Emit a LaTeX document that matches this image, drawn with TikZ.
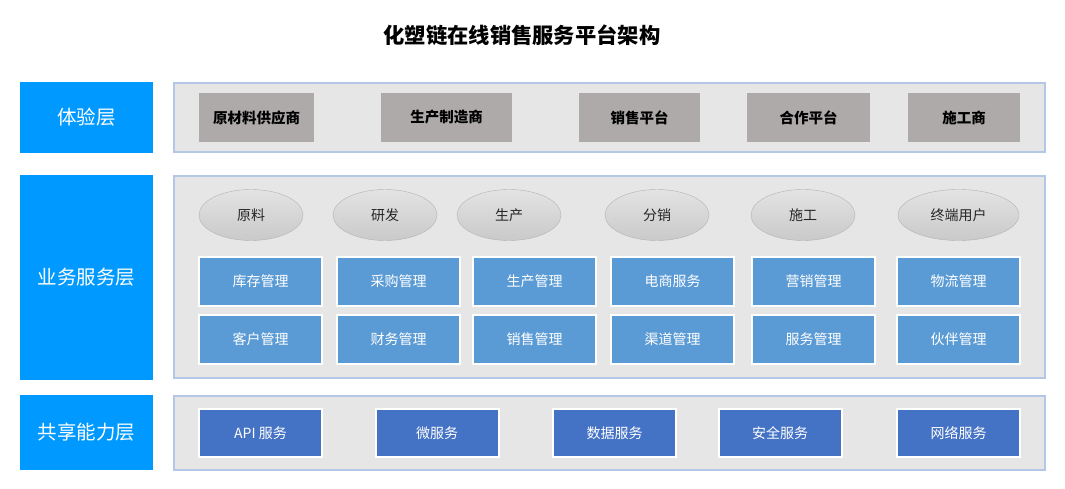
\documentclass[tikz,border=0pt]{standalone}
\usepackage{fontspec}
\setmainfont{Noto Sans CJK SC}
\usetikzlibrary{positioning,shapes.geometric}
\definecolor{layerblue}{HTML}{0099FF}
\definecolor{panelfill}{HTML}{E6E6E6}
\definecolor{panelline}{HTML}{B4C7E7}
\definecolor{rolegray}{HTML}{AEAAAA}
\definecolor{svcblue}{HTML}{5B9BD5}
\definecolor{capblue}{HTML}{4472C4}

\begin{document}
\begin{tikzpicture}[
    x=1pt, y=-1pt,
    layer/.style={fill=layerblue, text=white, minimum width=133pt, align=center, font=\fontsize{19.5}{23}\selectfont},
    panel/.style={draw=panelline, line width=2.8pt, fill=panelfill, minimum width=871pt},
    role/.style={fill=rolegray, minimum height=49pt, align=center, font=\fontsize{14.5}{17}\selectfont\bfseries},
    stage/.style={ellipse, draw=gray!60, top color=gray!22, bottom color=gray!42, minimum width=104pt, minimum height=51pt, text=black!85, font=\fontsize{14}{16}\selectfont},
    svc/.style={draw=white, line width=2pt, fill=svcblue, text=white, minimum width=123pt, minimum height=49pt, font=\fontsize{14}{16}\selectfont},
    capsvc/.style={svc, fill=capblue, minimum height=48pt}
]
\useasboundingbox (0,0) rectangle (1065,489);

% --- Title ---
\node[font=\fontsize{21.3}{25}\selectfont\bfseries] (title) at (522,35) {化塑链在线销售服务平台架构};

% --- Layer labels ---
\node[layer, minimum height=71pt]  (lexp)   at (86.5,117.5) {体验层};
\node[layer, minimum height=205pt] (lbiz)   at (86.5,277.5) {业务服务层};
\node[layer, minimum height=75pt]  (lshare) at (86.5,432.5) {共享能力层};

% --- Panels ---
\node[panel, minimum height=69pt]  (pexp)   at (609.5,117.5) {};
\node[panel, minimum height=202pt] (pbiz)   at (609.5,277) {};
\node[panel, minimum height=74pt]  (pshare) at (609.5,433) {};

% --- Experience layer: roles ---
\node[role, minimum width=115pt] (supp)  at (256.5,117.5) {原材料供应商};
\node[role, minimum width=131pt] (maker) at (446.5,117.5) {生产制造商};
\node[role, minimum width=121pt] (sales) at (639.5,117.5) {销售平台};
\node[role, minimum width=123pt] (coop)  at (808.5,117.5) {合作平台};
\node[role, minimum width=112pt] (build) at (964,117.5)   {施工商};

% --- Business layer: stages ---
\node[stage] (raw)  at (251,215) {原料};
\node[stage] (rd)   at (385,215) {研发};
\node[stage] (prod) at (509,215) {生产};
\node[stage] (dist) at (657,215) {分销};
\node[stage] (cons) at (803,215) {施工};
\node[stage, minimum width=121pt] (user) at (958.5,215) {终端用户};

% --- Business layer: services, row 1 ---
\node[svc] (stock)  at (260.5,281.5) {库存管理};
\node[svc] (buy)    at (398.5,281.5) {采购管理};
\node[svc] (pmgmt)  at (534.5,281.5) {生产管理};
\node[svc] (ecom)   at (672.5,281.5) {电商服务};
\node[svc] (mkt)    at (813.5,281.5) {营销管理};
\node[svc] (logi)   at (958.5,281.5) {物流管理};

% --- Business layer: services, row 2 ---
\node[svc] (cust)   at (260.5,339) {客户管理};
\node[svc] (fin)    at (398.5,339) {财务管理};
\node[svc] (smgmt)  at (534.5,339) {销售管理};
\node[svc] (chan)   at (672.5,339) {渠道管理};
\node[svc] (serv)   at (813.5,339) {服务管理};
\node[svc] (part)   at (958.5,339) {伙伴管理};

% --- Shared capability layer ---
\node[capsvc] (api)   at (260.5,433) {API 服务};
\node[capsvc] (micro) at (437,433)   {微服务};
\node[capsvc] (data)  at (614.5,433) {数据服务};
\node[capsvc] (sec)   at (780,433)   {安全服务};
\node[capsvc] (net)   at (958.5,433) {网络服务};
\end{tikzpicture}
\end{document}
